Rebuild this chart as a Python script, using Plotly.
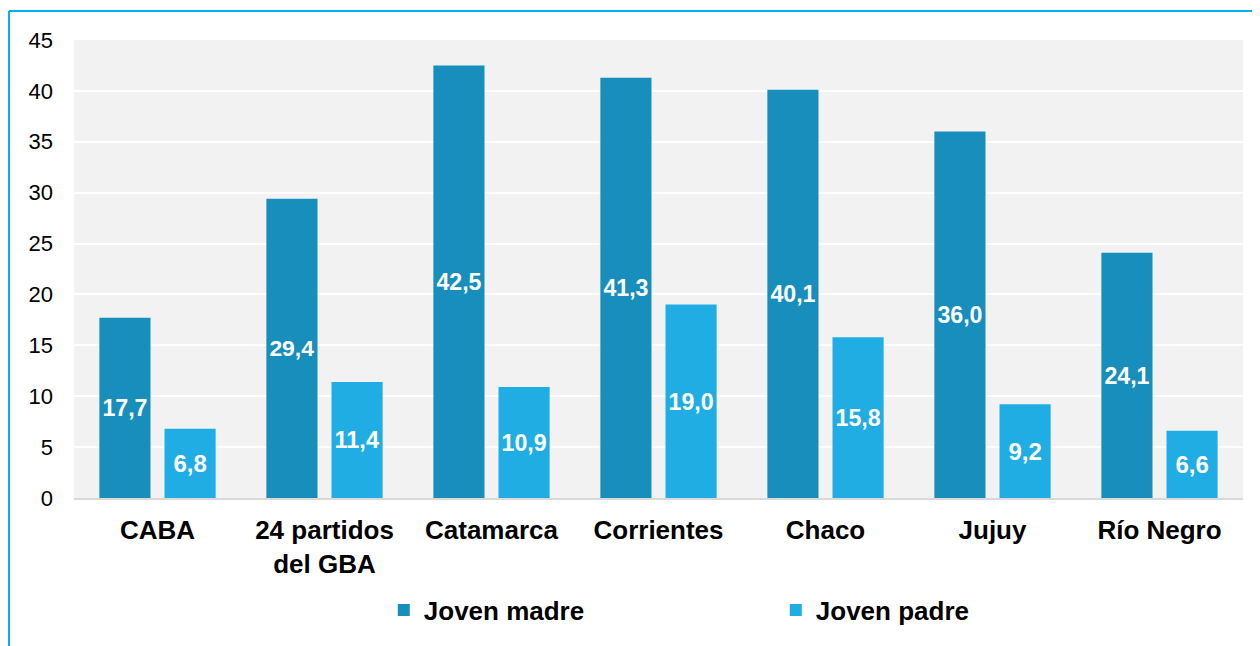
import plotly.graph_objects as go

MADRE = "#178EBC"
PADRE = "#1FADE4"
FRAME = "#00B0F0"

categorias = ["CABA", "24 partidos<br>del GBA", "Catamarca", "Corrientes", "Chaco", "Jujuy", "Río Negro"]
joven_madre = [17.7, 29.4, 42.5, 41.3, 40.1, 36.0, 24.1]
joven_padre = [6.8, 11.4, 10.9, 19.0, 15.8, 9.2, 6.6]


def etiqueta(v):
    return f"{v:.1f}".replace(".", ",")


fig = go.Figure()
for nombre, valores, color in [("Joven madre", joven_madre, MADRE), ("Joven padre", joven_padre, PADRE)]:
    fig.add_trace(
        go.Bar(
            name=nombre,
            x=categorias,
            y=valores,
            marker={"color": color, "line": {"width": 0}},
            text=[etiqueta(v) for v in valores],
            textposition="inside",
            insidetextanchor="middle",
            textangle=0,
            textfont={"color": "white", "size": 24, "family": "Liberation Sans, Arial, sans-serif", "weight": "bold"},
        )
    )

fig.update_layout(
    width=1244,
    height=638,
    barmode="group",
    bargap=0.22,
    bargroupgap=0.215,
    paper_bgcolor="white",
    plot_bgcolor="#F2F2F2",
    font={"family": "Liberation Sans, Arial, sans-serif", "color": "black"},
    margin={"l": 66, "r": 9, "t": 32, "b": 148},
    showlegend=True,
    legend={
        "orientation": "h",
        "x": 0.265,
        "xanchor": "left",
        "y": -0.2445,
        "yanchor": "middle",
        "entrywidth": 347,
        "entrywidthmode": "pixels",
        "font": {"size": 26, "weight": "bold"},
        "itemsizing": "constant",
    },
    shapes=[
        {"type": "line", "xref": "paper", "yref": "paper", "x0": -0.0556, "x1": -0.0556, "y0": -0.5, "y1": 1.0633,
         "line": {"color": FRAME, "width": 2}},
        {"type": "line", "xref": "paper", "yref": "paper", "x0": -0.0556, "x1": 1.1, "y0": 1.0633, "y1": 1.0633,
         "line": {"color": FRAME, "width": 2}},
    ],
)
fig.update_xaxes(
    showgrid=False,
    showline=True,
    linecolor="#D9D9D9",
    linewidth=2,
    tickfont={"size": 26, "weight": "bold", "color": "black"},
    ticks="",
    ticklabelstandoff=8,
)
fig.update_yaxes(
    range=[0, 45],
    dtick=5,
    gridcolor="white",
    gridwidth=2,
    zeroline=False,
    tickfont={"size": 22, "color": "black"},
    ticklabelstandoff=20,
)

fig.write_html("out.html")
